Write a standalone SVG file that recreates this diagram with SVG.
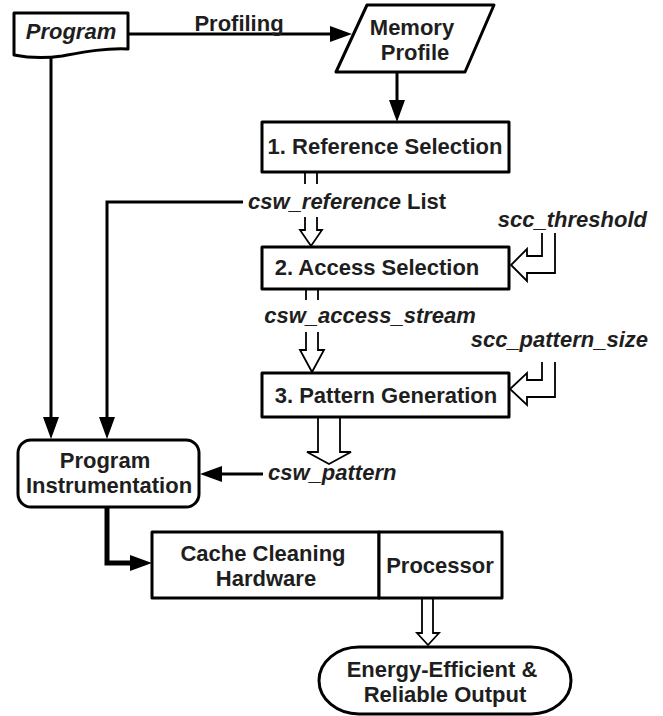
<svg xmlns="http://www.w3.org/2000/svg" width="663" height="716" viewBox="0 0 663 716">
<defs>
<marker id="ah" markerUnits="userSpaceOnUse" markerWidth="22" markerHeight="16" refX="1" refY="8" orient="auto"><path d="M0,0 L22,8 L0,16 z" fill="#000"/></marker>
</defs>
<style>
.box{fill:#fff;stroke:#000;stroke-width:3;stroke-linejoin:round}
.t{font-family:"Liberation Sans",Arial,sans-serif;font-weight:bold;font-size:22px;fill:#1e1e1e;text-anchor:middle}
.i{font-style:italic}
.e{text-anchor:end}
.s{text-anchor:start}
.c{fill:none;stroke:#000;stroke-width:3}
.h{fill:#fff;stroke:#000;stroke-width:1.8;stroke-linejoin:miter}
.hl{fill:none;stroke:#000;stroke-width:1.8}
</style>
<rect width="663" height="716" fill="#fff"/>
<g id="connectors">
<path class="c" d="M128,34 H331" marker-end="url(#ah)"/>
<path class="c" d="M397,72 V101" marker-end="url(#ah)"/>
<path class="c" d="M51,57 V418" marker-end="url(#ah)"/>
<path class="c" d="M243,202 H107 V418" marker-end="url(#ah)"/>
<path class="c" d="M263,474 H221" marker-end="url(#ah)"/>
<path class="c" d="M107,507 V563 H131" style="stroke-width:5" marker-end="url(#ah)"/>
<path class="hl" d="M305,172 V184 M317,172 V184"/>
<path class="h" d="M305,217 V230 H300 L311,246 L322,230 H317 V217"/>
<path class="hl" d="M306,289 V300 M318,289 V300"/>
<path class="h" d="M306,332 V350 H300 L312,372 L324,350 H318 V332"/>
<path class="h" d="M318,417 V452 H307 L329,464 L351,452 H340 V417"/>
<path class="h" d="M422,598 V633 H417 L428,645 L439,633 H433 V598"/>
<path class="h" d="M542,233 V256 H527 V249 L511,265 L527,281 V273 H555 V233"/>
<path class="h" d="M542,362 V380 H527 V373 L510,389 L527,405 V397 H555 V362"/>
<text class="t" x="239" y="31">Profiling</text>
<text class="t s" x="248" y="209"><tspan class="i">csw_reference</tspan> List</text>
<text class="t i e" x="647" y="227">scc_threshold</text>
<text class="t i" x="370" y="323">csw_access_stream</text>
<text class="t i e" x="648" y="347">scc_pattern_size</text>
<text class="t i s" x="268" y="480">csw_pattern</text>
</g>
<g id="program">
<path class="box" d="M14,13 H128 V49 C104,48 84,52 62,56 C42,59 24,57 14,55 Z"/>
<text class="t i" x="71" y="39">Program</text>
</g>
<g id="memory-profile">
<polygon class="box" points="367,5 494,5 465,72 336,72"/>
<text class="t" x="412" y="35">Memory</text>
<text class="t" x="415" y="60">Profile</text>
</g>
<g id="reference-selection">
<rect class="box" x="262" y="122" width="247" height="50"/>
<text class="t" x="385" y="154">1. Reference Selection</text>
</g>
<g id="access-selection">
<rect class="box" x="262" y="247" width="247" height="42"/>
<text class="t" x="377" y="275">2. Access Selection</text>
</g>
<g id="pattern-generation">
<rect class="box" x="262" y="373" width="247" height="44"/>
<text class="t" x="386" y="403">3. Pattern Generation</text>
</g>
<g id="program-instrumentation">
<rect class="box" x="18" y="440" width="181" height="67" rx="13"/>
<text class="t" x="105" y="468">Program</text>
<text class="t" x="109" y="493">Instrumentation</text>
</g>
<g id="cache-cleaning-hardware">
<rect class="box" x="152" y="532" width="227" height="66"/>
<text class="t" x="263" y="561">Cache Cleaning</text>
<text class="t" x="266" y="586">Hardware</text>
</g>
<g id="processor">
<rect class="box" x="379" y="532" width="123" height="66"/>
<text class="t" x="440" y="573">Processor</text>
</g>
<g id="output">
<rect class="box" x="319" y="647" width="252" height="67" rx="40" ry="33.5"/>
<text class="t" x="442" y="677">Energy-Efficient &amp;</text>
<text class="t" x="445" y="702">Reliable Output</text>
</g>
</svg>
